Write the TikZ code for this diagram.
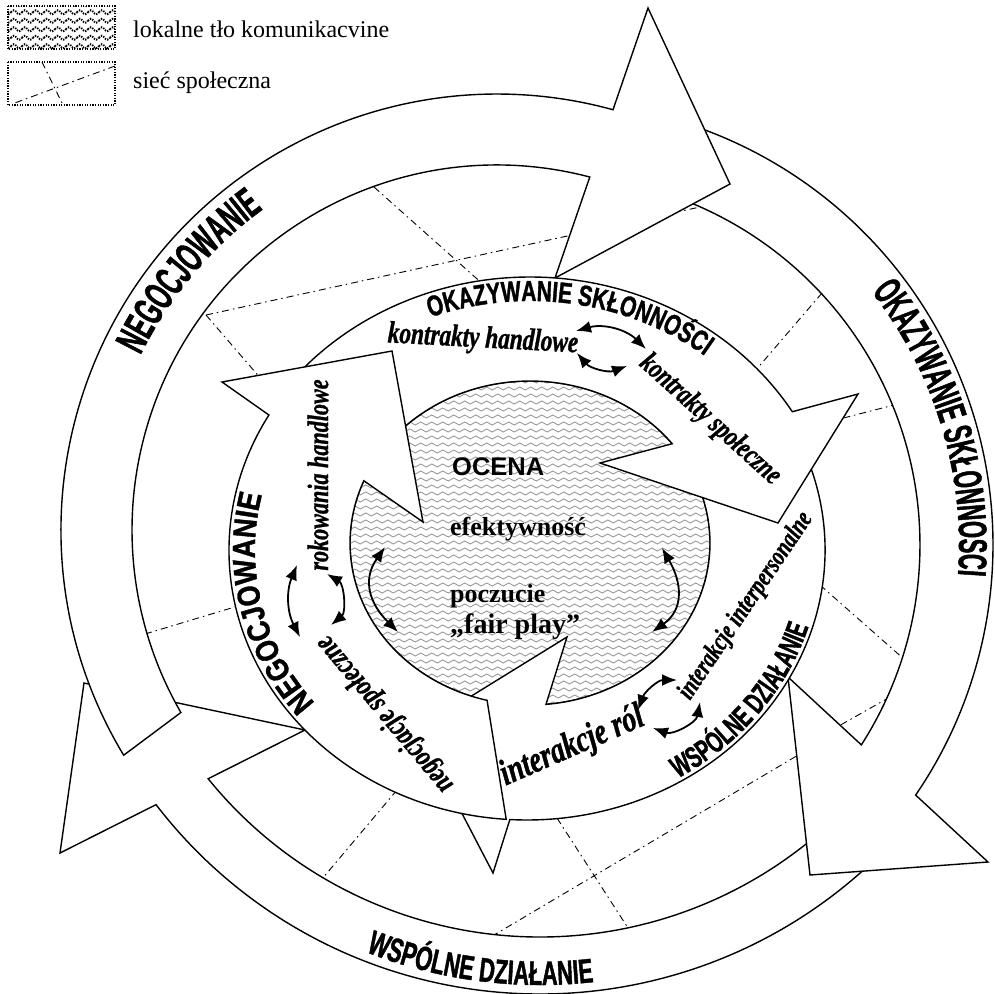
\documentclass[tikz,border=0pt]{standalone}
\usepackage{fontspec}
\setmainfont{Liberation Serif}
\setsansfont{Liberation Sans}
\newfontfamily\capsA[FakeStretch=0.55,FakeBold=1.2]{Liberation Sans}
\newfontfamily\capsB[FakeStretch=0.64,FakeBold=1.2]{Liberation Sans}
\newfontfamily\capsC[FakeStretch=0.72,FakeBold=1.2]{Liberation Sans}
\newfontfamily\capsD[FakeStretch=0.84,FakeBold=1.2]{Liberation Sans}
\newfontfamily\labelfont[FakeStretch=0.75,FakeBold=1]{Liberation Serif}
\usetikzlibrary{patterns,decorations.text,arrows.meta}

\pgfdeclarepatternformonly{blobwaves}{\pgfqpoint{-1pt}{-1pt}}{\pgfqpoint{12pt}{8pt}}{\pgfqpoint{11pt}{7pt}}{%
  \pgfsetlinewidth{0.9pt}%
  \pgfpathmoveto{\pgfqpoint{0pt}{3.5pt}}%
  \pgfpathcurveto{\pgfqpoint{1.6pt}{5.5pt}}{\pgfqpoint{3.9pt}{5.5pt}}{\pgfqpoint{5.5pt}{3.5pt}}%
  \pgfpathcurveto{\pgfqpoint{7.1pt}{1.5pt}}{\pgfqpoint{9.4pt}{1.5pt}}{\pgfqpoint{11pt}{3.5pt}}%
  \pgfusepath{stroke}}
\pgfdeclarepatternformonly{legendwaves}{\pgfqpoint{-1pt}{-1pt}}{\pgfqpoint{12pt}{9.5pt}}{\pgfqpoint{11pt}{8.5pt}}{%
  \pgfsetlinewidth{1.9pt}%
  \pgfpathmoveto{\pgfqpoint{0pt}{4.25pt}}%
  \pgfpathcurveto{\pgfqpoint{1.6pt}{6.9pt}}{\pgfqpoint{3.9pt}{6.9pt}}{\pgfqpoint{5.5pt}{4.25pt}}%
  \pgfpathcurveto{\pgfqpoint{7.1pt}{1.6pt}}{\pgfqpoint{9.4pt}{1.6pt}}{\pgfqpoint{11pt}{4.25pt}}%
  \pgfusepath{stroke}}

\tikzset{
  band/.style={draw=black, line width=1.4pt, fill=white, line join=miter},
  net/.style={line width=0.9pt, dash pattern=on 7pt off 4pt on 1.5pt off 4pt},
  twoway/.style={{Latex[length=15pt,width=12pt]}-{Latex[length=15pt,width=12pt]}, line width=1.8pt},
  blobfill/.style={draw=black, line width=1.4pt, pattern=blobwaves, pattern color=gray!80},
  legendbox/.style={line width=1.3pt, dash pattern=on 1.3pt off 1.3pt},
  ringtext/.style={decorate, decoration={text along path, text align=center, text={#1}}},
  tilted/.style={font=\labelfont\bfseries\itshape\fontsize{#1}{#1}\selectfont, inner sep=0pt},
  inblob/.style={font=\bfseries\fontsize{#1}{#1}\selectfont, inner sep=0pt, anchor=base west}
}

\begin{document}
\begin{tikzpicture}[x=1pt,y=1pt]
  \useasboundingbox (0,0) rectangle (994,-994);

  % legend
  \draw[legendbox, pattern=legendwaves] (8,-6) rectangle (115,-49);
  \node[anchor=base west, inner sep=0pt, font=\fontsize{24}{28}\selectfont] (legtlo) at (133,-37) {lokalne tło komunikacvine};
  \draw[legendbox] (8,-62) rectangle (115,-105);
  \draw[net] (42,-62) -- (63,-105);
  \draw[net] (115,-66) -- (12,-104);
  \node[anchor=base west, inner sep=0pt, font=\fontsize{24}{28}\selectfont] (legsiec) at (133,-88) {sieć społeczna};

  % social network
  \draw[net] (374,-187) -- (485,-286);
  \draw[net] (206,-315) -- (700,-207);
  \draw[net] (206,-315) -- (262,-380);
  \draw[net] (822,-293) -- (755,-371);
  \draw[net] (898,-404) -- (820,-424);
  \draw[net] (820,-585) -- (905,-660);
  \draw[net] (890,-697) -- (830,-731);
  \draw[net] (810,-748) -- (494,-935);
  \draw[net] (557,-818) -- (628,-928);
  \draw[net] (397,-790) -- (322,-879);
  \draw[net] (145,-634) -- (238,-606);

  % outer arrows
  \draw[band] ([shift={(540,-510)}]-42:484) arc(-42:-142.5:484pt) -- (60,-853) -- (84,-683) -- (305,-730)
    -- ([shift={(540,-510)}]-141:427) arc(-141:-42:427pt) -- cycle;
  \draw[band] ([shift={(550,-545)}]76:443) arc(76:-34.37:443pt) -- (988,-862) -- (810,-875) -- (788,-677)
    -- ([shift={(550,-545)}]-32.7:370) arc(-32.7:76:370pt) -- cycle;
  \draw[band] ([shift={(497,-530)}]211.1:436) arc(211.1:74.57:436pt) -- (648,-8) -- (730,-184) -- (555,-278)
    -- ([shift={(497,-530)}]75.27:365) arc(75.27:210:365pt) -- cycle;

  % evaluation
  \draw[blobfill] (530,-543) ellipse (180pt and 162pt);

  % inner arrows
  \draw[band] ([shift={(527,-550)}]22:298 and 270) arc(22:-93.3:298pt and 270pt) -- (493,-873) -- (418,-729) -- (567,-637)
    -- ([shift={(530,-543)}]-84.9:180 and 162) arc(-84.9:25:180pt and 162pt) -- cycle;
  \draw[band] ([shift={(530,-560)}]145:308 and 283) arc(145:31.6:308pt and 283pt) -- (858,-394) -- (778,-523) -- (600,-463)
    -- ([shift={(530,-543)}]37.8:180 and 162) arc(37.8:147:180pt and 162pt) -- cycle;
  \draw[band] ([shift={(527,-550)}]266:298 and 270) arc(266:150:298pt and 270pt) -- (222,-382) -- (392,-351) -- (423,-522)
    -- ([shift={(530,-543)}]157.4:180 and 162) arc(157.4:256.2:180pt and 162pt) -- cycle;

  % ring captions
  \path[ringtext={|\capsA\bfseries\fontsize{42}{42}\selectfont|NEGOCJOWANIE}]
    ([shift={(497,-530)}]175:397) arc(175:105:397pt);
  \path[ringtext={|\capsA\bfseries\fontsize{40}{40}\selectfont|OKAZYWANIE SKŁONNOSCI}]
    ([shift={(550,-545)}]62:409) arc(62:-28:409pt);
  \path[ringtext={|\capsB\bfseries\fontsize{34}{34}\selectfont|WSPÓLNE DZIAŁANIE}]
    ([shift={(540,-510)}]-140:475) arc(-140:-55:475pt);
  \path[ringtext={|\capsC\bfseries\fontsize{29}{29}\selectfont|OKAZYWANIE SKŁONNOŚCI}]
    ([shift={(530,-560)}]131:284 and 259) arc(131:31:284pt and 259pt);
  \path[ringtext={|\capsD\bfseries\fontsize{32}{32}\selectfont|NEGOCJOWANIE}]
    ([shift={(527,-550)}]235:272 and 244) arc(235:150:272pt and 244pt);
  \path[ringtext={|\capsB\bfseries\fontsize{30}{30}\selectfont|WSPÓLNE DZIAŁANIE}]
    ([shift={(527,-550)}]-80:294 and 266) arc(-80:6:294pt and 266pt);

  % centre
  \node[inblob=25.5, font=\sffamily\bfseries\fontsize{25.5}{26}\selectfont] (ocena) at (452,-475) {OCENA};
  \node[inblob=26] (efekt) at (450,-535) {efektywność};
  \node[inblob=26] (poczucie) at (450,-602) {poczucie};
  \node[inblob=28] (fairplay) at (450,-633) {„fair play”};

  % ties
  \node[tilted=31, rotate=-3] (kh) at (483,-340) {kontrakty handlowe};
  \node[tilted=29.5, rotate=-42] (ks) at (710,-420) {kontrakty społeczne};
  \node[tilted=29.5, rotate=90] (rh) at (318,-475) {rokowania handlowe};
  \node[tilted=30.5, rotate=130] (ns) at (385,-714) {negocjacje społeczne};
  \node[tilted=37, rotate=23.5, anchor=base] (ir) at (576,-755) {interakcje ról};
  \node[tilted=27, rotate=56] (ii) at (746,-606) {interakcje interpersonalne};

  \coordinate (kh1) at (576,-331);
  \coordinate (ks1) at (646,-349);
  \coordinate (kh2) at (577,-353);
  \coordinate (ks2) at (627,-366);
  \coordinate (rh1) at (297,-565);
  \coordinate (ns1) at (300,-637);
  \coordinate (rh2) at (327,-574);
  \coordinate (ns2) at (331,-625);
  \coordinate (bl1) at (385,-547);
  \coordinate (bl2) at (398,-632);
  \coordinate (br1) at (662,-548);
  \coordinate (br2) at (652,-632);
  \coordinate (ir1) at (638,-710);
  \coordinate (ii1) at (677,-680);
  \coordinate (ir2) at (653,-728);
  \coordinate (ii2) at (700,-702);

  \draw[twoway] (kh1) to[bend left=30] (ks1);
  \draw[twoway] (kh2) to[bend right=35] (ks2);
  \draw[twoway] (rh1) to[bend right=25] (ns1);
  \draw[twoway] (rh2) to[bend left=55] (ns2);
  \draw[twoway] (bl1) to[out=235, in=135, looseness=1.2] (bl2);
  \draw[twoway] (br1) to[out=-60, in=35, looseness=1.2] (br2);
  \draw[twoway] (ir1) to[out=70, in=180] (ii1);
  \draw[twoway] (ir2) to[out=-20, in=-100] (ii2);
\end{tikzpicture}
\end{document}
